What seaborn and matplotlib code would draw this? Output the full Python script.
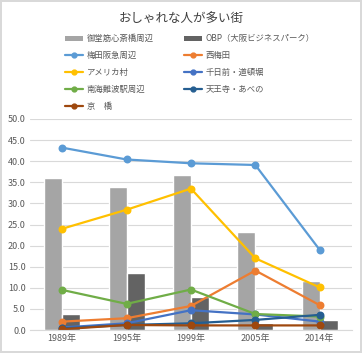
import numpy as np
import pandas as pd
import matplotlib
matplotlib.use("Agg")
import matplotlib.pyplot as plt
import seaborn as sns
from matplotlib.patches import Patch
from matplotlib.lines import Line2D

years = ["1989年", "1995年", "1999年", "2005年", "2014年"]

bar_names = ["御堂筋心斎橋周辺", "OBP（大阪ビジネスパーク）"]
midosuji = [35.9, 33.8, 36.8, 23.3, 11.6]
obp = [3.9, 13.4, 7.9, 1.7, 2.4]

line_names = ["梅田阪急周辺", "西梅田", "アメリカ村", "千日前・道頓堀",
              "南海難波駅周辺", "天王寺・あべの", "京　橋"]
umeda = [43.2, 40.4, 39.5, 39.1, 19.0]
nishiumeda = [2.0, 2.8, 5.7, 14.1, 5.9]
amemura = [24.0, 28.5, 33.5, 17.0, 10.1]
sennichimae = [0.6, 1.6, 4.7, 3.7, 2.0]
namba = [9.5, 6.2, 9.6, 3.8, 3.2]
tennoji = [0.4, 1.2, 1.6, 2.4, 3.6]
kyobashi = [0.2, 1.2, 1.1, 1.1, 1.1]

bar_colors = ["#A5A5A5", "#636363"]
line_colors = ["#5B9BD5", "#ED7D31", "#FFC000", "#4472C4",
               "#70AD47", "#255E91", "#9E480E"]

sns.set_style("white")
plt.rcParams['font.family'] = ['Noto Sans CJK JP', 'DejaVu Sans']

bars = pd.DataFrame({
    "year": years * 2,
    "value": midosuji + obp,
    "name": [bar_names[0]] * 5 + [bar_names[1]] * 5,
})
line_vals = [umeda, nishiumeda, amemura, sennichimae, namba, tennoji, kyobashi]
lines = pd.DataFrame({
    "year": years * len(line_names),
    "value": sum(line_vals, []),
    "name": [n for n in line_names for _ in years],
})

fig = plt.figure(figsize=(3.62, 3.53), dpi=100)
fig.patch.set_edgecolor("#D9D9D9")
fig.patch.set_linewidth(1.5)
ax = fig.add_axes([0.083, 0.065, 0.889, 0.598])

sns.barplot(data=bars, x="year", y="value", hue="name", palette=bar_colors,
            width=0.56, gap=0, ax=ax, legend=False, saturation=1)
sns.pointplot(data=lines, x="year", y="value", hue="name", palette=line_colors,
              markers="o", markersize=4.5, linewidth=1.6, ax=ax, legend=False)

ax.set_xlim(-0.5, 4.5)
ax.set_ylim(0, 50)
ax.set_yticks(np.arange(0, 51, 5))
ax.set_yticklabels([f"{v:.1f}" for v in np.arange(0, 51, 5)])
ax.yaxis.grid(True, color="#D9D9D9", linewidth=0.8)
ax.set_axisbelow(True)
ax.set_xlabel("")
ax.set_ylabel("")
for s in ["top", "right", "left"]:
    ax.spines[s].set_visible(False)
ax.spines["bottom"].set_color("#D9D9D9")
ax.tick_params(axis="both", length=0, labelsize=6.5, colors="#595959", pad=3)

fig.text(0.5, 0.945, "おしゃれな人が多い街", ha="center", va="center",
         fontsize=9, color="#404040")

bh = [Patch(facecolor=c, edgecolor="none") for c in bar_colors]
lh = [Line2D([], [], color=c, marker="o", markersize=3.5, linewidth=1.6) for c in line_colors]
order_h = [bh[0], lh[0], lh[2], lh[4], lh[6], bh[1], lh[1], lh[3], lh[5]]
order_l = [bar_names[0], line_names[0], line_names[2], line_names[4], line_names[6],
           bar_names[1], line_names[1], line_names[3], line_names[5]]
fig.legend(order_h, order_l, ncol=2, loc="upper left", bbox_to_anchor=(0.17, 0.912),
           frameon=False, fontsize=6, labelcolor="#595959", handlelength=2.2,
           handletextpad=0.4, columnspacing=3.6, labelspacing=0.95, borderaxespad=0)

fig.savefig("out.png", dpi=100)
